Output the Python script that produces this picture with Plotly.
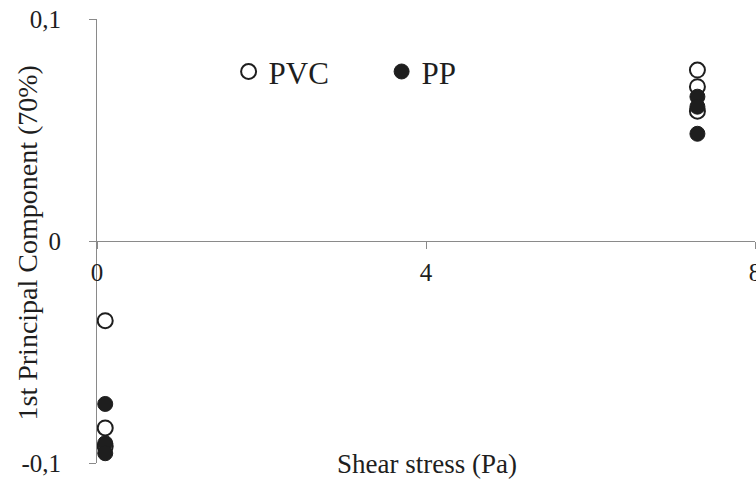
import plotly.graph_objects as go

# Shear stress (Pa) applied to each set of samples
shear_pvc = [0.1, 0.1, 0.1, 7.3, 7.3, 7.3]
shear_pp = [0.1, 0.1, 0.1, 7.3, 7.3, 7.3]

# Scores on the first principal component
pc1_pvc = [-0.0359, -0.0842, -0.0925, 0.0770, 0.0695, 0.0585]
pc1_pp = [-0.0734, -0.0911, -0.0956, 0.0650, 0.0605, 0.0483]

x_ticks = [0, 4, 8]
x_tick_text = ["0", "4", "8"]
y_ticks = [-0.1, 0, 0.1]
y_tick_text = ["-0,1", "0", "0,1"]

SERIF = "Liberation Serif, Times New Roman, serif"
AXIS_GREY = "#8a8a8a"
INK = "#1e1e1e"

fig = go.Figure()
fig.add_trace(go.Scatter(
    x=shear_pvc, y=pc1_pvc, mode="markers", name="PVC",
    marker=dict(symbol="circle", size=15, color="white",
                line=dict(color=INK, width=2)),
))
fig.add_trace(go.Scatter(
    x=shear_pp, y=pc1_pp, mode="markers", name="PP",
    marker=dict(symbol="circle", size=15, color=INK,
                line=dict(color=INK, width=1)),
))

fig.update_layout(
    width=756, height=480,
    margin=dict(l=97, r=1, t=19, b=17),
    paper_bgcolor="white", plot_bgcolor="white",
    font=dict(family=SERIF, color=INK, size=25),
    showlegend=True,
    legend=dict(
        orientation="h", x=0.2, y=0.881, xanchor="left", yanchor="middle",
        font=dict(family=SERIF, size=31, color=INK),
        entrywidth=108, entrywidthmode="pixels",
        bgcolor="rgba(0,0,0,0)", borderwidth=0,
    ),
    xaxis=dict(
        range=[0, 8], tickvals=x_ticks, ticktext=x_tick_text,
        anchor="free", position=0.5, automargin=False,
        showline=True, linecolor=AXIS_GREY, linewidth=1,
        ticks="outside", ticklen=7, tickcolor=AXIS_GREY, tickwidth=1,
        showgrid=False, zeroline=False, ticklabelstandoff=2,
        ticklabeloverflow="allow",
        tickfont=dict(family=SERIF, size=25, color=INK),
    ),
    yaxis=dict(
        range=[-0.1, 0.1], tickvals=y_ticks, ticktext=y_tick_text,
        automargin=False,
        showline=True, linecolor=AXIS_GREY, linewidth=1,
        ticks="outside", ticklen=7, tickcolor=AXIS_GREY, tickwidth=1,
        showgrid=False, zeroline=False, ticklabelstandoff=23,
        tickfont=dict(family=SERIF, size=25, color=INK),
    ),
    annotations=[
        dict(text="Shear stress (Pa)", xref="paper", yref="paper",
             x=0.502, y=-0.003, xanchor="center", yanchor="middle",
             showarrow=False, font=dict(family=SERIF, size=27, color=INK)),
        dict(text="1st Principal Component (70%)", xref="paper", yref="paper",
             x=-0.106, y=0.495, xanchor="center", yanchor="middle",
             textangle=-90, showarrow=False,
             font=dict(family=SERIF, size=28, color=INK)),
    ],
)

fig.write_html("out.html")
